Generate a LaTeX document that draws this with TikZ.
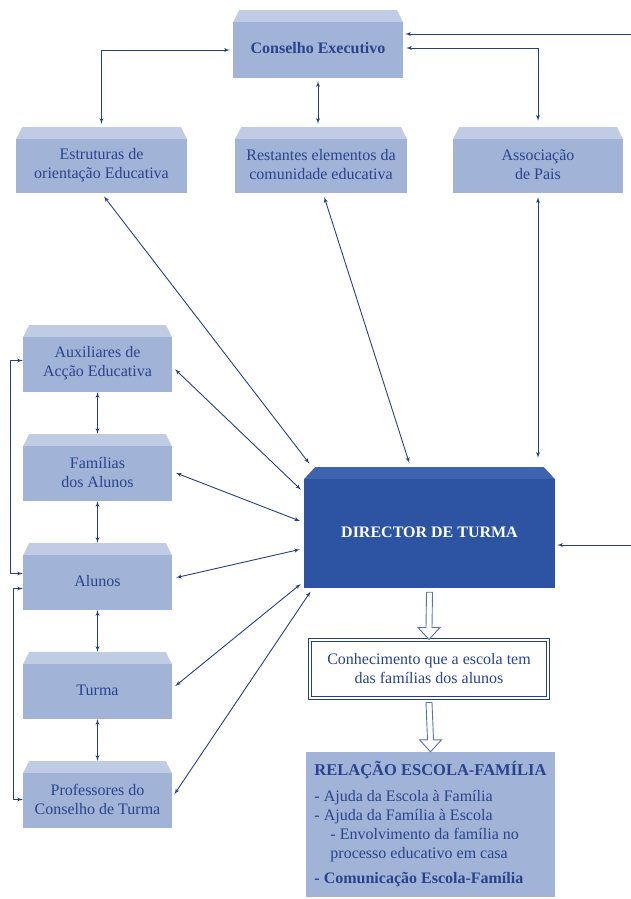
\documentclass[tikz,border=0pt]{standalone}
\usepackage{fontspec}
\setmainfont{Liberation Serif}
\usepackage{tikz}
\usetikzlibrary{shapes,arrows}
\usetikzlibrary{calc}

\definecolor{caixa}{RGB}{161,179,214}
\definecolor{topo}{RGB}{192,203,228}
\definecolor{letra}{RGB}{40,68,140}
\definecolor{linha}{RGB}{40,64,125}
\definecolor{dtazul}{RGB}{44,84,163}
\definecolor{dttopo}{RGB}{62,100,175}
\definecolor{ocoazul}{RGB}{88,114,172}

\tikzset{
  biseau/.style n args={3}{path picture={
    \fill[#3] (path picture bounding box.north west) rectangle ([yshift=-#2pt]path picture bounding box.north east);
    \fill[white] (path picture bounding box.north west) -- ++(#1,0) -- ++(-#1,#2) -- cycle;
    \fill[white] (path picture bounding box.north east) -- ++(-#1,0) -- ++(#1,#2) -- cycle;
  }},
  bloco/.style={fill=caixa, inner sep=0pt, minimum width=170pt, minimum height=66pt, biseau={6}{12}{topo}},
  rotulo/.style={align=center, text=letra, inner sep=0pt, yshift=-5pt, font=\fontsize{16}{19}\selectfont},
  dtbox/.style={fill=dtazul, inner sep=0pt, biseau={11}{12}{dttopo}},
  lig/.style={<->, >=latex', linha, line width=0.9pt},
  diag/.style={lig, shorten <=4pt, shorten >=4pt},
  oco/.style={draw=ocoazul, fill=white, line width=0.9pt},
}

\newcommand{\setaoca}[2]{\draw[oco] ($(#1.south)+(-3,4)$) -- ($(#2.north)+(-3,-12)$) -- ++(-8,0) -- (#2.north) -- ++(11,-12) -- ++(-8,0) -- ($(#1.south)+(3,4)$) -- cycle;}

\begin{document}
\begin{tikzpicture}[x=1pt, y=-1pt]
	\useasboundingbox (0,0) rectangle (631,899);
	
	% caixas de cima
	\node[bloco, minimum height=68pt, label={[rotulo, yshift=1pt]center:\textbf{Conselho Executivo}}] (ce) at (318,44) {};
	\node[bloco, minimum width=171pt, label={[rotulo]center:Estruturas de\\orientação Educativa}] (est) at (101.5,160) {};
	\node[bloco, minimum width=172pt, label={[rotulo]center:Restantes elementos da\\comunidade educativa}] (rest) at (321,160) {};
	\node[bloco, label={[rotulo]center:Associação\\de Pais}] (ap) at (538,160) {};
	
	% coluna da esquerda
	\node[bloco, minimum width=149pt, minimum height=67pt, label={[rotulo]center:Auxiliares de\\Acção Educativa}] (aux) at (97.5,358.5) {};
	\node[bloco, minimum width=149pt, minimum height=67pt, label={[rotulo]center:Famílias\\dos Alunos}] (fam) at (97.5,467.5) {};
	\node[bloco, minimum width=149pt, minimum height=67pt, label={[rotulo]center:Alunos}] (alu) at (97.5,576.5) {};
	\node[bloco, minimum width=149pt, minimum height=67pt, label={[rotulo]center:Turma}] (tur) at (97.5,685.5) {};
	\node[bloco, minimum width=149pt, minimum height=67pt, label={[rotulo]center:Professores do\\Conselho de Turma}] (prof) at (97.5,794.5) {};
	
	% director de turma e caixas de baixo
	\node[dtbox, minimum width=251pt, minimum height=121pt,
	      label={[rotulo, text=white, font=\fontsize{16}{19}\selectfont\bfseries]center:DIRECTOR DE TURMA}] (dt) at (429.5,527.5) {};
	\node[draw=linha, double=white, double distance=1.5pt, line width=1pt, fill=white, text=letra, align=center,
	      minimum width=238pt, minimum height=58pt, font=\fontsize{16}{19}\selectfont] (con) at (429,669)
	      {Conhecimento que a escola tem\\das famílias dos alunos};
	\node[fill=caixa, text=letra, align=left, inner sep=0pt, minimum width=249pt, minimum height=145pt,
	      font=\fontsize{16}{19}\selectfont] (rel) at (430.5,824.5)
	      {\textbf{\fontsize{16.5}{19}\selectfont RELAÇÃO ESCOLA-FAMÍLIA}\\[7pt]
	       - Ajuda da Escola à Família\\
	       - Ajuda da Família à Escola\\
	       \hspace*{16pt}- Envolvimento da família no\\
	       \hspace*{16pt}processo educativo em casa\\[6pt]
	       \textbf{- Comunicação Escola-Família}};
	
	% ligações de cima
	\draw[lig, shorten <=3pt, shorten >=3pt] ([yshift=-6pt]ce.west) -| (est.north);
	\draw[lig, shorten <=3pt, shorten >=3pt] (ce.south) -- (ce.south |- rest.north);
	\draw[lig, shorten <=3pt, shorten >=6pt] ([yshift=-4pt]ce.east) -| (ap.north);
	\coordinate (d1) at (631,34);
	\coordinate (d2) at (631,545);
	\draw[lig, -, ->, shorten >=2pt] (d1) -- (d1 -| ce.east);
	\draw[lig, -, ->, shorten >=2pt] (d2) -- (d2 -| dt.east);
	
	% ligações ao director
	\draw[diag] (est.south) -- ([xshift=8pt]dt.north west);
	\draw[diag] ([xshift=2pt]rest.south) -- ([xshift=-19pt]dt.north);
	\draw[diag, shorten >=9pt] (ap.south) -- (ap.south |- dt.north);
	\draw[diag] ([yshift=-8pt]aux.east) -- ([yshift=35pt]dt.west);
	\draw[diag] ([yshift=-4pt]fam.east) -- ([yshift=5pt]dt.west);
	\draw[diag] ([yshift=-2pt]alu.east) -- ([yshift=-21pt]dt.west);
	\draw[diag] ([yshift=-3pt]tur.east) -- ([yshift=-54pt]dt.west);
	\draw[diag] ([yshift=-3pt]prof.east) -- ([xshift=9pt]dt.south west);
	
	% coluna da esquerda
	\foreach \a/\b in {aux/fam, fam/alu, alu/tur, tur/prof}
		\draw[lig] (\a.south) -- (\b.north);
	\draw[lig] ([yshift=-2pt]aux.west) -- ++(-12,0) |- ([yshift=3pt]alu.west);
	\draw[lig] ([yshift=-12pt]alu.west) -- ++(-9,0) |- ([yshift=-5pt]prof.west);
	
	% setas ocas
	\setaoca{dt}{con}
	\setaoca{con}{rel}
\end{tikzpicture}
\end{document}
